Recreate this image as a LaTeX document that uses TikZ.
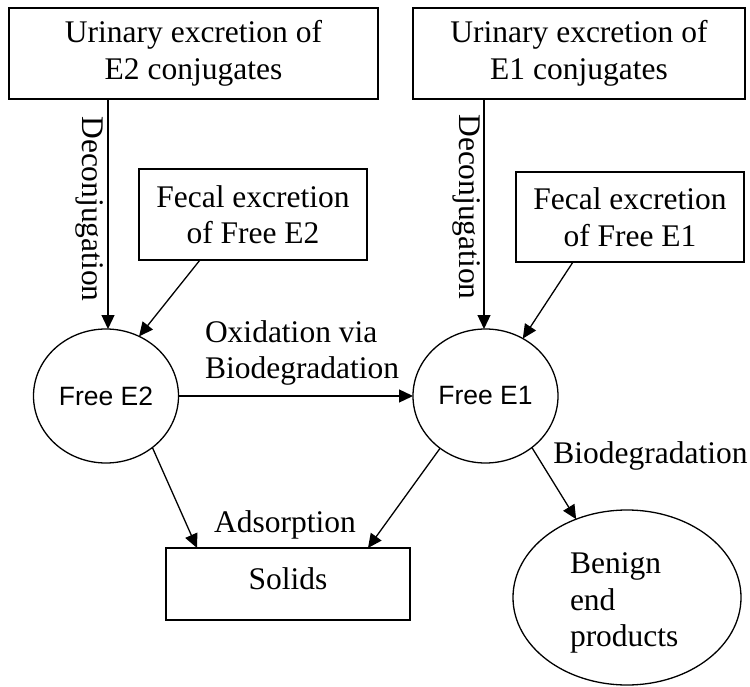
\documentclass[tikz,border=0pt]{standalone}
\usepackage{fontspec}
\setmainfont{Liberation Serif}
\newfontfamily\sansf{Liberation Sans}
\usetikzlibrary{arrows.meta,shapes.geometric}
\begin{document}
\begin{tikzpicture}[x=1pt,y=-1pt,
  font=\fontsize{31.5}{36.5}\selectfont,
  every node/.style={inner sep=0pt, outer sep=0pt},
  box/.style={draw, line width=1.3pt},
  oval/.style={draw, ellipse, line width=1.3pt, inner sep=0pt},
  circ/.style={oval, minimum width=145pt, minimum height=134pt, font=\sansf\fontsize{26.5}{30}\selectfont},
  arr/.style={line width=1.3pt, -{Triangle[length=14pt,width=13pt]}}]
\useasboundingbox (0,0) rectangle (750,687);

\node[box, align=center, minimum width=369pt, minimum height=91pt] (u2) at (193.5,53.5) {Urinary excretion of\\E2 conjugates};
\node[box, align=center, minimum width=332pt, minimum height=91pt] (u1) at (579,53.5) {Urinary excretion of\\E1 conjugates};
\node[box, align=center, minimum width=228pt, minimum height=91pt] (f2) at (253,214.5) {Fecal excretion\\of Free E2};
\node[box, align=center, minimum width=228pt, minimum height=90pt] (f1) at (630,217) {Fecal excretion\\of Free E1};
\node[circ] (e2) at (106,396) {Free E2};
\node[circ] (e1) at (485.5,396) {Free E1};
\node[box, minimum width=244pt, minimum height=72pt, text height=21.5pt, text depth=11pt] (sol) at (288,584) {Solids};
\node[oval, minimum width=228pt, minimum height=175pt] (ben) at (627,597.5) {};
\node[align=left, anchor=west] (bent) at (570,603) {Benign\\end\\products};

\node[rotate=-90] (dc2) at (90,209) {Deconjugation};
\node[rotate=-90] (dc1) at (467,207) {Deconjugation};
\node[align=left, anchor=west] (ox) at (205,353) {Oxidation via\\Biodegradation};
\node (bio) at (650.5,456) {Biodegradation};
\node (ads) at (285,525) {Adsorption};

\draw[arr] ([xshift=2pt]e2.north |- u2.south) -- ([xshift=2pt]e2.north);
\draw[arr] ([xshift=-1.5pt]e1.north |- u1.south) -- ([xshift=-1.5pt]e1.north);
\draw[arr] ([xshift=-53pt]f2.south) -- (e2.61);
\draw[arr] ([xshift=-57pt]f1.south) -- (e1.57);
\draw[arr] (e2.east) -- (e1.west);
\draw[arr] (e2.-48) -- ([xshift=31pt]sol.north west);
\draw[arr] (e1.-131) -- ([xshift=-42pt]sol.north east);
\draw[arr] (e1.-48) -- (ben.123);
\end{tikzpicture}
\end{document}
